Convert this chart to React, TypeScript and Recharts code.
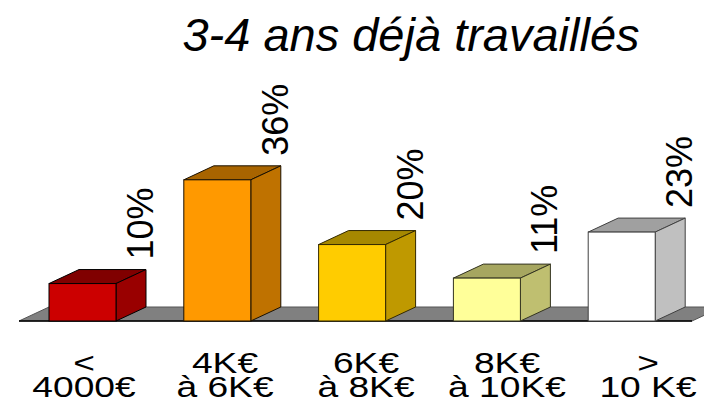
import { BarChart, Bar, XAxis, YAxis, LabelList } from 'recharts';

const title = '3-4 ans déjà travaillés';
const tickLine1 = ['<', '4K€', '6K€', '8K€', '>'];
const tickLine2 = ['4000€', 'à 6K€', 'à 8K€', 'à 10K€', '10 K€'];
const shares = [9.6, 36.2, 19.6, 11.0, 22.8];

const frontColors = ['#CC0000', '#FF9900', '#FFCC00', '#FFFF99', '#FFFFFF'];
const topColors = ['#800000', '#A86400', '#A68800', '#A6A660', '#A0A0A0'];
const sideColors = ['#990000', '#BF7200', '#BF9900', '#BFBF70', '#C0C0C0'];
const edgeColors = ['#000000', '#1a1000', '#332900', '#333320', '#404040'];

const data = shares.map((value, i) => ({
  name: `${tickLine1[i]} ${tickLine2[i]}`,
  value,
}));

const WIDTH = 704;
const HEIGHT = 405;
const MARGIN = { top: 165, right: 15, left: 15, bottom: 0 };
const DEPTH_X = 30;
const DEPTH_Y = 14;
const FONT = '"Liberation Sans", Arial, sans-serif';

function Box3D(props: any) {
  const { x, y, width, height, index } = props;
  const base = y + height;
  const left = MARGIN.left + 4;
  const right = WIDTH - MARGIN.right + 3;
  const edge = edgeColors[index];
  return (
    <g>
      {index === 0 && (
        <g>
          <polygon
            points={`${left},${base} ${left + DEPTH_X},${base - DEPTH_Y} ${right + DEPTH_X},${base - DEPTH_Y} ${right},${base}`}
            fill="#808080"
            stroke="#555"
            strokeWidth={1}
          />
          <line x1={left} y1={base} x2={right} y2={base} stroke="#000" strokeWidth={1.5} />
        </g>
      )}
      <polygon
        points={`${x},${y} ${x + DEPTH_X},${y - DEPTH_Y} ${x + width + DEPTH_X},${y - DEPTH_Y} ${x + width},${y}`}
        fill={topColors[index]}
        stroke={edge}
        strokeWidth={1}
      />
      <polygon
        points={`${x + width},${y} ${x + width + DEPTH_X},${y - DEPTH_Y} ${x + width + DEPTH_X},${base - DEPTH_Y} ${x + width},${base}`}
        fill={sideColors[index]}
        stroke={edge}
        strokeWidth={1}
      />
      <rect x={x} y={y} width={width} height={height} fill={frontColors[index]} stroke={edge} strokeWidth={1} />
    </g>
  );
}

function ValueLabel(props: any) {
  const { x, y, width, value } = props;
  const lx = x + width + DEPTH_X + 7;
  const ly = y - DEPTH_Y - 10;
  return (
    <text
      x={lx}
      y={ly}
      transform={`rotate(-90 ${lx} ${ly})`}
      textAnchor="start"
      fontFamily={FONT}
      fontSize={36}
      fill="#000"
    >
      {`${Math.round(value)}%`}
    </text>
  );
}

function TwoLineTick(props: any) {
  const { x, y, index } = props;
  // labels sit a little wider apart than the bars
  const cx = WIDTH / 2 + (x - WIDTH / 2) * 1.046 + 14;
  return (
    <g transform={`translate(${cx},${y}) scale(1.24,1)`}>
      <text x={0} y={52} textAnchor="middle" fontFamily={FONT} fontSize={30} fill="#000">
        {tickLine1[index]}
      </text>
      <text x={0} y={76} textAnchor="middle" fontFamily={FONT} fontSize={30} fill="#000">
        {tickLine2[index]}
      </text>
    </g>
  );
}

export default function App() {
  return (
    <div style={{ position: 'fixed', left: 0, top: 0, width: WIDTH, height: HEIGHT, background: '#fff', overflow: 'hidden' }}>
      <div
        style={{
          position: 'absolute',
          left: 0,
          width: 822,
          top: 8,
          textAlign: 'center',
          fontFamily: FONT,
          fontStyle: 'italic',
          fontSize: 47,
          lineHeight: '54px',
          color: '#000',
          whiteSpace: 'nowrap',
        }}
      >
        {title}
      </div>
      <div
        style={{
          position: 'absolute',
          left: -27,
          top: 42,
          fontFamily: FONT,
          fontSize: 32,
          lineHeight: '32px',
          transform: 'rotate(-90deg)',
          color: '#000',
        }}
      >
        €
      </div>
      <BarChart width={WIDTH} height={HEIGHT} data={data} margin={MARGIN} barSize={67}>
        <XAxis
          dataKey="name"
          height={84}
          axisLine={false}
          tickLine={false}
          tickSize={0}
          tickMargin={0}
          interval={0}
          tick={<TwoLineTick />}
        />
        <YAxis hide domain={[0, 40]} />
        <Bar dataKey="value" isAnimationActive={false} shape={<Box3D />}>
          <LabelList dataKey="value" content={<ValueLabel />} />
        </Bar>
      </BarChart>
    </div>
  );
}
